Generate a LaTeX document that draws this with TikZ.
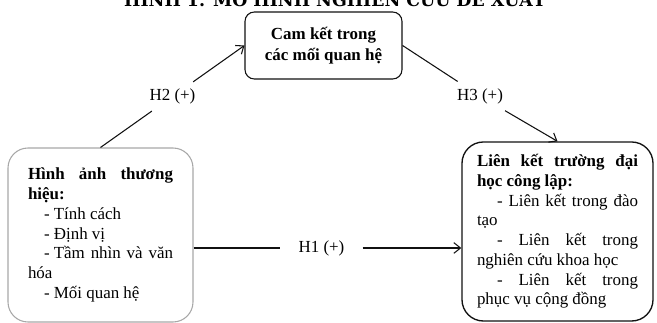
\documentclass[tikz,border=0pt]{standalone}
\usepackage{fontspec}
\setmainfont{Liberation Serif}
\newfontfamily\titlefont{DejaVu Serif}
\usetikzlibrary{arrows.meta, positioning, calc}
\definecolor{mdark}{HTML}{111111}
\definecolor{mgray}{HTML}{A8A8A8}
\tikzset{
  conceptbox/.style={draw=mdark, line width=0.8pt, rounded corners=7pt,
                     align=center, font=\fontsize{12.7pt}{15.8pt}\selectfont\bfseries,
                     inner sep=0pt},
  itembox/.style={line width=0.8pt, align=justify, inner sep=0pt,
                  font=\fontsize{12.7pt}{14.8pt}\selectfont},
  hyplabel/.style={font=\fontsize{12.7pt}{14pt}\selectfont, inner sep=5pt},
  link/.style={draw=mdark, line width=0.8pt},
  linkarr/.style={link, -{Straight Barb[length=5pt, width=8pt, line width=0.8pt]}},
}
\newcommand{\itemind}{\hspace*{12pt}}

\begin{document}
\begin{tikzpicture}[x=0.75pt, y=-0.75pt]

  %% ── Frame ──
  \useasboundingbox (0,0) rectangle (657,323);
  \clip (0,0) rectangle (657,323);

  %% ═══════════ TITLE (cut at the top edge) ═══════════
  \node[anchor=base, font=\titlefont\bfseries\fontsize{13pt}{14pt}\selectfont] (title)
    at (335, 6.5) {HÌNH 1. MÔ HÌNH NGHIÊN CỨU ĐỀ XUẤT};

  %% ═══════════ BOXES ═══════════
  \node[conceptbox, minimum width=117.75pt, minimum height=50.25pt] (commit)
    at (323.5, 45.5) {Cam kết trong\\các mối quan hệ};

  \node[itembox, draw=mgray, rounded corners=15pt, text width=108.75pt,
        minimum width=138.75pt, minimum height=130.5pt] (brand)
    at (100.5, 235)
    {\textbf{Hình\hfill ảnh\hfill thương}\\
     \textbf{hiệu:}\\
     \itemind- Tính cách\\
     \itemind- Định vị\\
     \itemind- Tầm\hfill nhìn\hfill và\hfill văn\\
     hóa\\
     \itemind- Mối quan hệ};

  \node[itembox, draw=mdark, line width=1pt, rounded corners=16pt, text width=120.75pt,
        minimum width=143.25pt, minimum height=134.25pt] (uni)
    at (557.5, 231.5)
    {\textbf{Liên\hfill kết\hfill trường\hfill đại}\\
     \textbf{học công lập:}\\
     \itemind\hspace*{3pt}-\hfill Liên\hfill kết\hfill trong\hfill đào\\
     tạo\\
     \itemind\hspace*{3pt}-\hfill Liên\hfill kết\hfill trong\\
     nghiên cứu khoa học\\
     \itemind\hspace*{3pt}-\hfill Liên\hfill kết\hfill trong\\
     phục vụ cộng đồng};

  %% ═══════════ HYPOTHESES ═══════════
  %% H2: brand -> commitment
  \path (brand.north) -- (commit.west)
    node[hyplabel, midway] (h2) {H2 (+)};
  \draw[link] (brand.north) -- (h2);
  \draw[linkarr] (h2) -- (commit.west);

  %% H3: commitment -> university links
  \path (commit.east) -- (uni.north)
    node[hyplabel, midway, yshift=-2pt] (h3) {H3 (+)};
  \draw[link] (commit.east) -- (h3);
  \draw[linkarr] (h3) -- (uni.north);

  %% H1: brand -> university links
  \node[hyplabel, inner xsep=13.5pt] (h1) at (321.5, 248) {H1 (+)};
  \draw[link] (h1 -| brand.east) -- (h1.west);
  \draw[linkarr] (h1.east) -- (h1 -| uni.west);

\end{tikzpicture}
\end{document}
